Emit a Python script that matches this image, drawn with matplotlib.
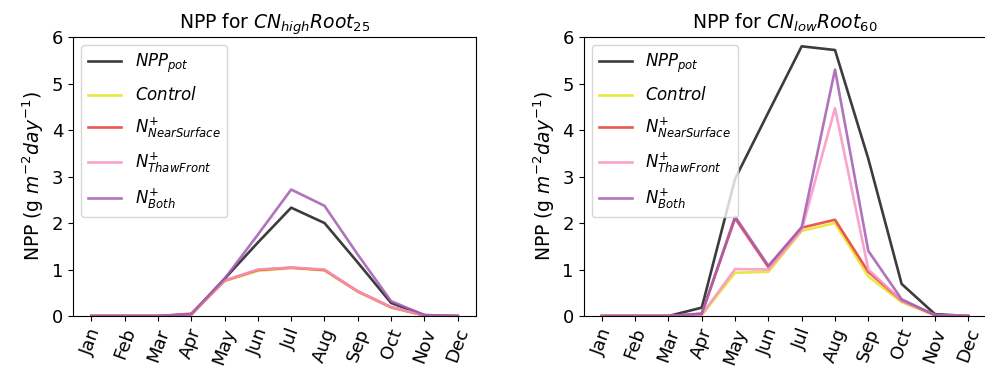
import matplotlib
matplotlib.use("Agg")
import matplotlib.pyplot as plt

months = ["Jan", "Feb", "Mar", "Apr", "May", "Jun", "Jul", "Aug", "Sep", "Oct", "Nov", "Dec"]

# CN_high Root_25
high_pot = [0, 0, 0, 0.03, 0.80, 1.58, 2.33, 2.00, 1.15, 0.28, 0.02, 0]
high_control = [0, 0, 0, 0.02, 0.75, 0.97, 1.03, 0.98, 0.52, 0.18, 0.01, 0]
high_near = [0, 0, 0, 0.05, 0.76, 0.99, 1.04, 0.99, 0.53, 0.19, 0.01, 0]
high_thaw = [0, 0, 0, 0.03, 0.76, 1.00, 1.04, 1.00, 0.53, 0.19, 0.01, 0]
high_both = [0, 0, 0, 0.04, 0.80, 1.75, 2.72, 2.37, 1.32, 0.32, 0.02, 0]

# CN_low Root_60
low_pot = [0, 0, 0, 0.18, 2.95, 4.38, 5.80, 5.72, 3.38, 0.69, 0.04, 0]
low_control = [0, 0, 0, 0.02, 0.93, 0.95, 1.83, 2.00, 0.85, 0.30, 0.01, 0]
low_near = [0, 0, 0, 0.05, 2.10, 1.05, 1.90, 2.07, 0.95, 0.33, 0.02, 0]
low_thaw = [0, 0, 0, 0.03, 1.01, 1.00, 1.85, 4.47, 1.00, 0.33, 0.02, 0]
low_both = [0, 0, 0, 0.05, 2.14, 1.08, 1.91, 5.30, 1.40, 0.36, 0.02, 0]

labels = [r"$NPP_{pot}$", r"$Control$", r"$N^{+}_{NearSurface}$",
          r"$N^{+}_{ThawFront}$", r"$N^{+}_{Both}$"]
colors = ["#1a1a1a", "#e4e420", "#e83a36", "#f794c4", "#a35cb2"]

fig = plt.figure(figsize=(9.85, 3.69), dpi=100)
ax1 = fig.add_axes([0.0741, 0.1436, 0.4092, 0.7561])
ax2 = fig.add_axes([0.5924, 0.1436, 0.4092, 0.7561])

panels = [
    (ax1, [high_pot, high_control, high_near, high_thaw, high_both],
     r"NPP for $CN_{high}Root_{25}$"),
    (ax2, [low_pot, low_control, low_near, low_thaw, low_both],
     r"NPP for $CN_{low}Root_{60}$"),
]

x = list(range(len(months)))
for ax, series, title in panels:
    for vals, lab, col in zip(series, labels, colors):
        ax.plot(x, vals, color=col, lw=1.9, alpha=0.85, label=lab)
    ax.set_ylim(0, 6)
    ax.set_yticks(range(0, 7))
    ax.set_xticks(x)
    ax.set_xticklabels(months, rotation=70, fontsize=13)
    ax.tick_params(axis="y", labelsize=13)
    ax.set_title(title, fontsize=13.5)
    ax.set_ylabel(r"NPP (g $m^{-2} day^{-1}$)", fontsize=13.5)
    ax.legend(loc="upper left", fontsize=12, labelspacing=0.67)

fig.savefig("out.png", dpi=100)
